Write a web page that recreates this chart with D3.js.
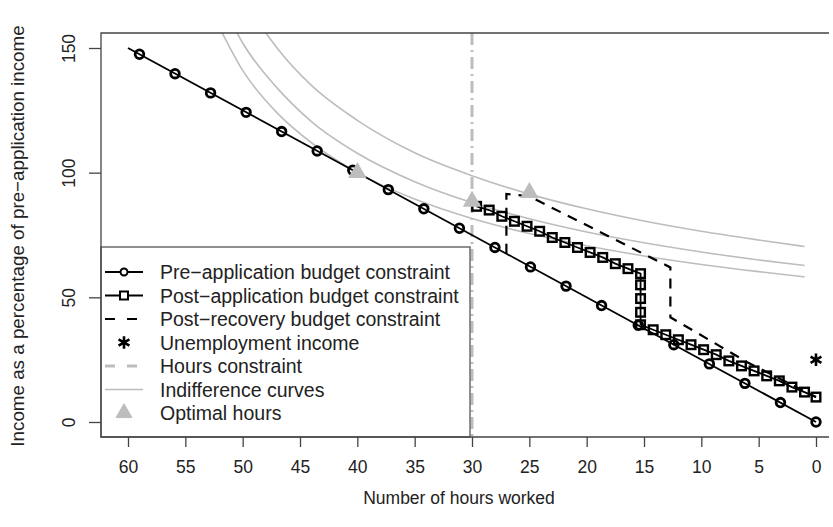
<!DOCTYPE html>
<html><head><meta charset="utf-8">
<script src="https://cdn.jsdelivr.net/npm/d3@7"></script>
<style>body{margin:0;background:#fff}svg{font-family:"Liberation Sans",Arial,sans-serif}</style>
</head><body><svg id="chart" width="833" height="527"></svg>
<script>
// data
const preHours = [59, 55.9, 52.8, 49.7, 46.6, 43.5, 40.4, 37.3, 34.2, 31.1, 28.0, 24.9, 21.8, 18.7, 15.5, 12.4, 9.3, 6.2, 3.1, 0];
const preIncome = [147.5, 139.7, 132, 124.2, 116.5, 108.7, 101, 93.2, 85.5, 77.7, 70, 62.2, 54.5, 46.7, 38.8, 31, 23.3, 15.5, 7.8, 0];
const preLine = [[60, 150], [0, 0]];
const postHours = [29.6, 28.5, 27.4, 26.3, 25.2, 24.1, 23.0, 21.9, 20.8, 19.7, 18.6, 17.5, 16.4, 15.3, 15.3, 15.3, 15.3, 15.3, 14.2, 13.1, 12.0, 10.9, 9.8, 8.7, 7.6, 6.5, 5.4, 4.3, 3.2, 2.1, 1.0, 0];
const postIncome = [86.5, 85, 82.5, 80.5, 78.5, 76.5, 74, 72, 70, 68, 66, 63.5, 61.5, 59.5, 55, 49.5, 44, 39, 37, 35, 33, 31, 29, 27, 24.5, 22.5, 20.5, 18.5, 16.5, 14, 12, 10];
const recHours = [27, 27, 25, 12.7, 12.7, 6, 0];
const recIncome = [67.5, 91.5, 90.5, 62, 42, 24, 10];
const unemployment = [0, 25];
const hoursConstraint = 30;
const icHours = [52, 50, 47, 44, 40, 35, 30, 25, 20, 15, 10, 5, 1];
const icLow = [158, 141, 124, 112, 100, 89.4, 81.6, 75.6, 70.7, 66.6, 63.2, 60.3, 58.2];
const icMid = [170, 152, 134, 120.5, 107.8, 96.4, 88, 81.5, 76.2, 71.9, 68.2, 65, 62.8];
const icHigh = [191, 171, 150, 135, 121, 108, 98.8, 91.4, 85.5, 80.6, 76.5, 73, 70.4];
const optHours = [40, 30, 25];
const optIncome = [100, 88.5, 92];
const xTicks = [60, 55, 50, 45, 40, 35, 30, 25, 20, 15, 10, 5, 0];
const yTicks = [0, 50, 100, 150];
const legendLabels = ["Pre\u2212application budget constraint", "Post\u2212application budget constraint", "Post\u2212recovery budget constraint", "Unemployment income", "Hours constraint", "Indifference curves", "Optimal hours"];

const svg = d3.select("#chart");
const L = 101, R = 829, T = 33, B = 437;
const FS = 17.5;
const x = d3.scaleLinear().domain([60, 0]).range([128, 816]);
const y = d3.scaleLinear().domain([0, 150]).range([422, 48]);
const grey = "#bdbdbd";

svg.append("defs").append("clipPath").attr("id", "clip")
  .append("rect").attr("x", L).attr("y", T).attr("width", R - L).attr("height", B - T);
const g = svg.append("g").attr("clip-path", "url(#clip)");
const line = d3.line().x(d => x(d[0])).y(d => y(d[1]));
const curve = d3.line().x(d => x(d[0])).y(d => y(d[1])).curve(d3.curveMonotoneX);

// indifference curves
[icLow, icMid, icHigh].forEach(arr => {
  g.append("path").attr("d", curve(icHours.map((h, i) => [h, arr[i]])))
    .attr("fill", "none").attr("stroke", grey).attr("stroke-width", 1.6);
});

// hours constraint
g.append("line").attr("x1", x(hoursConstraint)).attr("x2", x(hoursConstraint))
  .attr("y1", T).attr("y2", B).attr("stroke", grey).attr("stroke-width", 3)
  .attr("stroke-dasharray", "12,5,2,5");

// pre-application
g.append("path").attr("d", line(preLine)).attr("fill", "none").attr("stroke", "#000").attr("stroke-width", 1.8);
g.selectAll("circle.pre").data(preHours).enter().append("circle").attr("class", "pre")
  .attr("cx", d => x(d)).attr("cy", (d, i) => y(preIncome[i])).attr("r", 4.3)
  .attr("fill", "none").attr("stroke", "#000").attr("stroke-width", 2.8);

// post-recovery
g.append("path").attr("d", line(recHours.map((h, i) => [h, recIncome[i]])))
  .attr("fill", "none").attr("stroke", "#000").attr("stroke-width", 2.2).attr("stroke-dasharray", "10,8");

// post-application
const post = postHours.map((h, i) => [h, postIncome[i]]);
g.append("path").attr("d", line(post)).attr("fill", "none").attr("stroke", "#000").attr("stroke-width", 1.8);
g.selectAll("rect.post").data(post).enter().append("rect").attr("class", "post")
  .attr("x", d => x(d[0]) - 4.3).attr("y", d => y(d[1]) - 4.3).attr("width", 8.6).attr("height", 8.6)
  .attr("fill", "none").attr("stroke", "#000").attr("stroke-width", 2.4);

// optimal hours
const tri = d3.symbol().type(d3.symbolTriangle).size(110);
g.selectAll("path.opt").data(optHours).enter().append("path").attr("class", "opt")
  .attr("d", tri).attr("transform", (d, i) => `translate(${x(d)},${y(optIncome[i])})`)
  .attr("fill", grey).attr("stroke", grey).attr("stroke-width", 1.5);

// unemployment asterisk
const star = d3.symbol().type(d3.symbolAsterisk).size(110);
svg.append("path").attr("d", star).attr("transform", `translate(${x(unemployment[0])},${y(unemployment[1])})`)
  .attr("fill", "none").attr("stroke", "#000").attr("stroke-width", 2.6);

// legend
const lg = svg.append("g");
lg.append("rect").attr("x", L).attr("y", 247).attr("width", 470 - L).attr("height", B - 247)
  .attr("fill", "#fff").attr("stroke", "#555").attr("stroke-width", 1.3);
legendLabels.forEach((t, i) => {
  const cy = 272 + i * 23.5;
  lg.append("text").attr("x", 160).attr("y", cy + 7).attr("font-size", 19.5).attr("fill", "#222").text(t);
  if (i === 0 || i === 1) {
    lg.append("line").attr("x1", 105).attr("x2", 143).attr("y1", cy).attr("y2", cy).attr("stroke", "#000").attr("stroke-width", 1.8);
    if (i === 0) lg.append("circle").attr("cx", 124).attr("cy", cy).attr("r", 3.5).attr("fill", "#fff").attr("stroke", "#000").attr("stroke-width", 2);
    else lg.append("rect").attr("x", 120).attr("y", cy - 4).attr("width", 8).attr("height", 8).attr("fill", "#fff").attr("stroke", "#000").attr("stroke-width", 2);
  } else if (i === 2 || i === 4) {
    lg.append("line").attr("x1", 105).attr("x2", 143).attr("y1", cy).attr("y2", cy)
      .attr("stroke", i === 2 ? "#000" : grey).attr("stroke-width", i === 2 ? 2.2 : 3).attr("stroke-dasharray", "10,12");
  } else if (i === 3) {
    lg.append("path").attr("d", star).attr("transform", `translate(124,${cy})`).attr("fill", "none").attr("stroke", "#000").attr("stroke-width", 2.6);
  } else if (i === 5) {
    lg.append("line").attr("x1", 105).attr("x2", 143).attr("y1", cy).attr("y2", cy).attr("stroke", grey).attr("stroke-width", 1.6);
  } else {
    lg.append("path").attr("d", tri).attr("transform", `translate(124,${cy})`).attr("fill", grey).attr("stroke", grey);
  }
});

// plot box
svg.append("path").attr("d", `M${R},${T}H${L}V${B}H${R}`).attr("fill", "none").attr("stroke", "#444").attr("stroke-width", 1.3);

// axes
const xa = svg.append("g").attr("transform", `translate(0,${B})`)
  .call(d3.axisBottom(x).tickValues(xTicks).tickSize(10).tickPadding(14).tickSizeOuter(0));
xa.select(".domain").remove();
xa.selectAll("text").attr("font-size", FS).attr("fill", "#222").style("font-family", "Liberation Sans, Arial");
xa.selectAll("line").attr("stroke", "#444").attr("stroke-width", 1.3);

const ya = svg.append("g").attr("transform", `translate(${L},0)`)
  .call(d3.axisLeft(y).tickValues(yTicks).tickSize(12).tickSizeOuter(0));
ya.select(".domain").remove();
ya.selectAll("line").attr("stroke", "#444").attr("stroke-width", 1.3);
ya.selectAll("text").attr("font-size", FS).attr("fill", "#222").style("font-family", "Liberation Sans, Arial")
  .attr("text-anchor", "middle").attr("x", 0).attr("dy", 0)
  .attr("transform", "translate(-26,0) rotate(-90)");

svg.append("text").attr("x", 459).attr("y", 504).attr("text-anchor", "middle").attr("font-size", FS).attr("fill", "#222").text("Number of hours worked");
svg.append("text").attr("transform", "translate(24,236) rotate(-90)").attr("text-anchor", "middle").attr("font-size", 18.8).attr("fill", "#222").text("Income as a percentage of pre\u2212application income");
</script></body></html>
